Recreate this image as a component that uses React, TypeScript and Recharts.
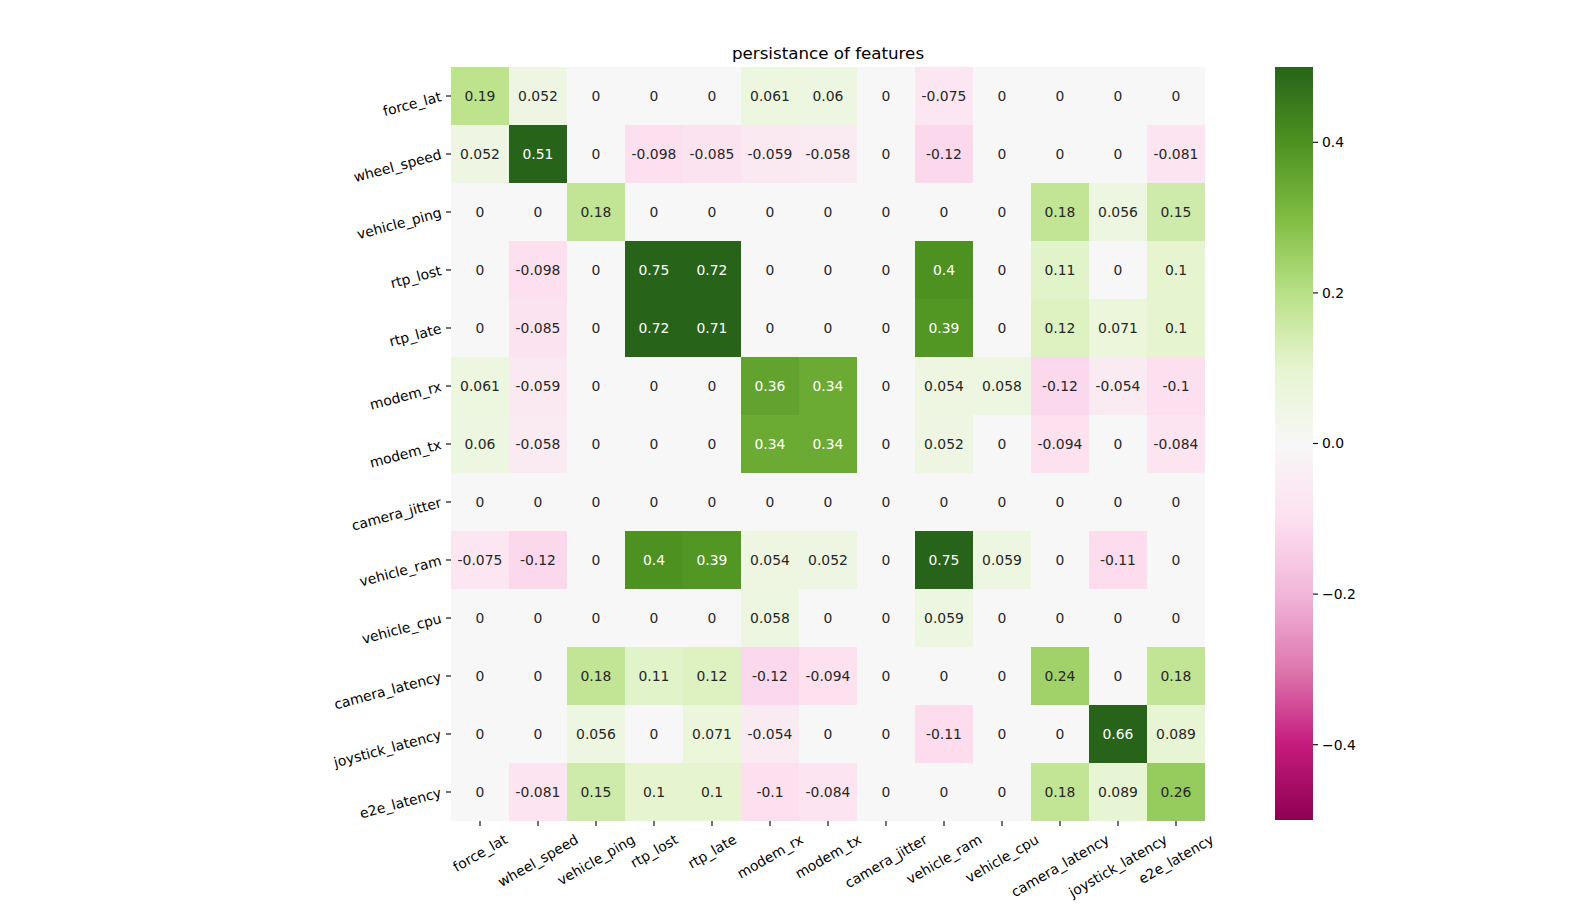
import React from "react";
import { BarChart, Bar, XAxis, YAxis, Cell, LabelList } from "recharts";

const FONT = "DejaVu Sans, sans-serif";

const features = [
  "force_lat",
  "wheel_speed",
  "vehicle_ping",
  "rtp_lost",
  "rtp_late",
  "modem_rx",
  "modem_tx",
  "camera_jitter",
  "vehicle_ram",
  "vehicle_cpu",
  "camera_latency",
  "joystick_latency",
  "e2e_latency",
];

// one row per feature, columns in the same order as `features`
const forceLat = [0.19, 0.052, 0, 0, 0, 0.061, 0.06, 0, -0.075, 0, 0, 0, 0];
const wheelSpeed = [0.052, 0.51, 0, -0.098, -0.085, -0.059, -0.058, 0, -0.12, 0, 0, 0, -0.081];
const vehiclePing = [0, 0, 0.18, 0, 0, 0, 0, 0, 0, 0, 0.18, 0.056, 0.15];
const rtpLost = [0, -0.098, 0, 0.75, 0.72, 0, 0, 0, 0.4, 0, 0.11, 0, 0.1];
const rtpLate = [0, -0.085, 0, 0.72, 0.71, 0, 0, 0, 0.39, 0, 0.12, 0.071, 0.1];
const modemRx = [0.061, -0.059, 0, 0, 0, 0.36, 0.34, 0, 0.054, 0.058, -0.12, -0.054, -0.1];
const modemTx = [0.06, -0.058, 0, 0, 0, 0.34, 0.34, 0, 0.052, 0, -0.094, 0, -0.084];
const cameraJitter = [0, 0, 0, 0, 0, 0, 0, 0, 0, 0, 0, 0, 0];
const vehicleRam = [-0.075, -0.12, 0, 0.4, 0.39, 0.054, 0.052, 0, 0.75, 0.059, 0, -0.11, 0];
const vehicleCpu = [0, 0, 0, 0, 0, 0.058, 0, 0, 0.059, 0, 0, 0, 0];
const cameraLatency = [0, 0, 0.18, 0.11, 0.12, -0.12, -0.094, 0, 0, 0, 0.24, 0, 0.18];
const joystickLatency = [0, 0, 0.056, 0, 0.071, -0.054, 0, 0, -0.11, 0, 0, 0.66, 0.089];
const e2eLatency = [0, -0.081, 0.15, 0.1, 0.1, -0.1, -0.084, 0, 0, 0, 0.18, 0.089, 0.26];

const matrix = [
  forceLat,
  wheelSpeed,
  vehiclePing,
  rtpLost,
  rtpLate,
  modemRx,
  modemTx,
  cameraJitter,
  vehicleRam,
  vehicleCpu,
  cameraLatency,
  joystickLatency,
  e2eLatency,
];

const colorbarTicks = [-0.4, -0.2, 0, 0.2, 0.4];
const vmin = -0.5;
const vmax = 0.5;

// matplotlib PiYG
const piygStops = [
  "#8e0152", "#c51b7d", "#de77ae", "#f1b6da", "#fde0ef", "#f7f7f7",
  "#e6f5d0", "#b8e186", "#7fbc41", "#4d9221", "#276419",
];

const hexToRgb = (h: string) => [
  parseInt(h.slice(1, 3), 16),
  parseInt(h.slice(3, 5), 16),
  parseInt(h.slice(5, 7), 16),
];

const piygRgb = (v: number) => {
  const t = Math.min(1, Math.max(0, (v - vmin) / (vmax - vmin)));
  const pos = t * 10;
  const i = Math.min(9, Math.floor(pos));
  const f = pos - i;
  const a = hexToRgb(piygStops[i]);
  const b = hexToRgb(piygStops[i + 1]);
  return a.map((c, k) => Math.round(c + (b[k] - c) * f));
};

const piyg = (v: number) => {
  const [r, g, b] = piygRgb(v);
  return `rgb(${r},${g},${b})`;
};

// seaborn picks the annotation colour from the cell luminance
const annotColor = (v: number) => {
  const lin = piygRgb(v).map((c) => {
    const s = c / 255;
    return s <= 0.03928 ? s / 12.92 : Math.pow((s + 0.055) / 1.055, 2.4);
  });
  const lum = 0.2126 * lin[0] + 0.7152 * lin[1] + 0.0722 * lin[2];
  return lum > 0.408 ? "#262626" : "#ffffff";
};

const heatRows = features.map((name, i) => {
  const row: Record<string, any> = { name };
  matrix[i].forEach((v, j) => {
    row[`c${j}`] = 1;
    row[`v${j}`] = v;
  });
  return row;
});

const colorbarData = [{ name: "cb", range: [vmin, vmax] }];

let ctx: CanvasRenderingContext2D | null = null;
const textWidth = (s: string, size: number) => {
  if (!ctx) ctx = document.createElement("canvas").getContext("2d");
  if (!ctx) return s.length * size * 0.6;
  ctx.font = `${size}px 'DejaVu Sans'`;
  return ctx.measureText(s).width;
};

const YTick = (props: any) => {
  const { x, y, payload } = props;
  return (
    <text
      x={x}
      y={y}
      transform={`rotate(-15, ${x}, ${y})`}
      textAnchor="end"
      dominantBaseline="central"
      fontSize={13.9}
      fontFamily={FONT}
      fill="#000"
    >
      {payload.value}
    </text>
  );
};

const XTick = (props: any) => {
  const { x, y, payload } = props;
  const label = features[Math.floor(payload.value)] ?? "";
  const w = textWidth(label, 13.9);
  const h = 16.2;
  const cy = y + (w / 2) * Math.sin(Math.PI / 6) + (h / 2) * Math.cos(Math.PI / 6);
  return (
    <text
      x={x}
      y={cy}
      transform={`rotate(-30, ${x}, ${cy})`}
      textAnchor="middle"
      dominantBaseline="central"
      fontSize={13.9}
      fontFamily={FONT}
      fill="#000"
    >
      {label}
    </text>
  );
};

const makeAnnot = (j: number) => (props: any) => {
  const vb = props.viewBox ?? props;
  const x = vb.x ?? props.x;
  const y = vb.y ?? props.y;
  const width = vb.width ?? props.width;
  const height = vb.height ?? props.height;
  const v =
    typeof props.value === "number" ? props.value : matrix[props.index ?? 0][j];
  return (
    <text
      x={x + width / 2}
      y={y + height / 2}
      textAnchor="middle"
      dominantBaseline="central"
      fontSize={13.9}
      fontFamily={FONT}
      fill={annotColor(v)}
    >
      {String(v)}
    </text>
  );
};

const fmtBar = (v: number) => (v < 0 ? "\u2212" : "") + Math.abs(v).toFixed(1);

export default function App() {
  return (
    <div
      style={{
        position: "absolute",
        left: 0,
        top: 0,
        width: 1593,
        height: 912,
        background: "#fff",
        fontFamily: FONT,
      }}
    >
      <div
        style={{
          position: "absolute",
          left: 528,
          top: 43,
          width: 600,
          textAlign: "center",
          fontSize: 16.7,
          lineHeight: "20px",
          color: "#000",
        }}
      >
        persistance of features
      </div>

      <div style={{ position: "absolute", left: 0, top: 0 }}>
        <BarChart
          width={1593}
          height={912}
          layout="vertical"
          data={heatRows}
          margin={{ top: 67, right: 388, bottom: 11, left: 351 }}
          barCategoryGap={0}
          barGap={0}
        >
          <XAxis
            type="number"
            domain={[0, features.length]}
            ticks={features.map((_, i) => i + 0.5)}
            interval={0}
            height={80}
            axisLine={false}
            tickSize={5}
            tickMargin={5}
            tickLine={{ stroke: "#000", strokeWidth: 1.1 }}
            tick={<XTick />}
          />
          <YAxis
            type="category"
            dataKey="name"
            width={100}
            interval={0}
            axisLine={false}
            tickSize={5}
            tickMargin={5}
            tickLine={{ stroke: "#000", strokeWidth: 1.1 }}
            tick={<YTick />}
          />
          {features.map((_, j) => (
            <Bar
              key={j}
              dataKey={`c${j}`}
              stackId="heat"
              isAnimationActive={false}
            >
              {features.map((__, i) => (
                <Cell key={i} fill={piyg(matrix[i][j])} />
              ))}
              <LabelList dataKey={`v${j}`} content={makeAnnot(j)} />
            </Bar>
          ))}
        </BarChart>
      </div>

      <div style={{ position: "absolute", left: 1265, top: 0 }}>
        <BarChart
          width={200}
          height={912}
          data={colorbarData}
          margin={{ top: 67, right: 92, bottom: 92, left: 10 }}
          barCategoryGap={0}
        >
          <defs>
            <linearGradient id="piygBar" x1="0" y1="0" x2="0" y2="1">
              {piygStops
                .slice()
                .reverse()
                .map((c, k) => (
                  <stop key={k} offset={`${k * 10}%`} stopColor={c} />
                ))}
            </linearGradient>
          </defs>
          <XAxis type="category" dataKey="name" hide />
          <YAxis
            type="number"
            orientation="right"
            domain={[vmin, vmax]}
            ticks={colorbarTicks}
            interval={0}
            width={60}
            axisLine={false}
            tickSize={5}
            tickMargin={4}
            tickLine={{ stroke: "#000", strokeWidth: 1.1 }}
            tick={{ fontSize: 13.9, fill: "#000", fontFamily: FONT }}
            tickFormatter={fmtBar}
          />
          <Bar dataKey="range" fill="url(#piygBar)" isAnimationActive={false} />
        </BarChart>
      </div>
    </div>
  );
}
